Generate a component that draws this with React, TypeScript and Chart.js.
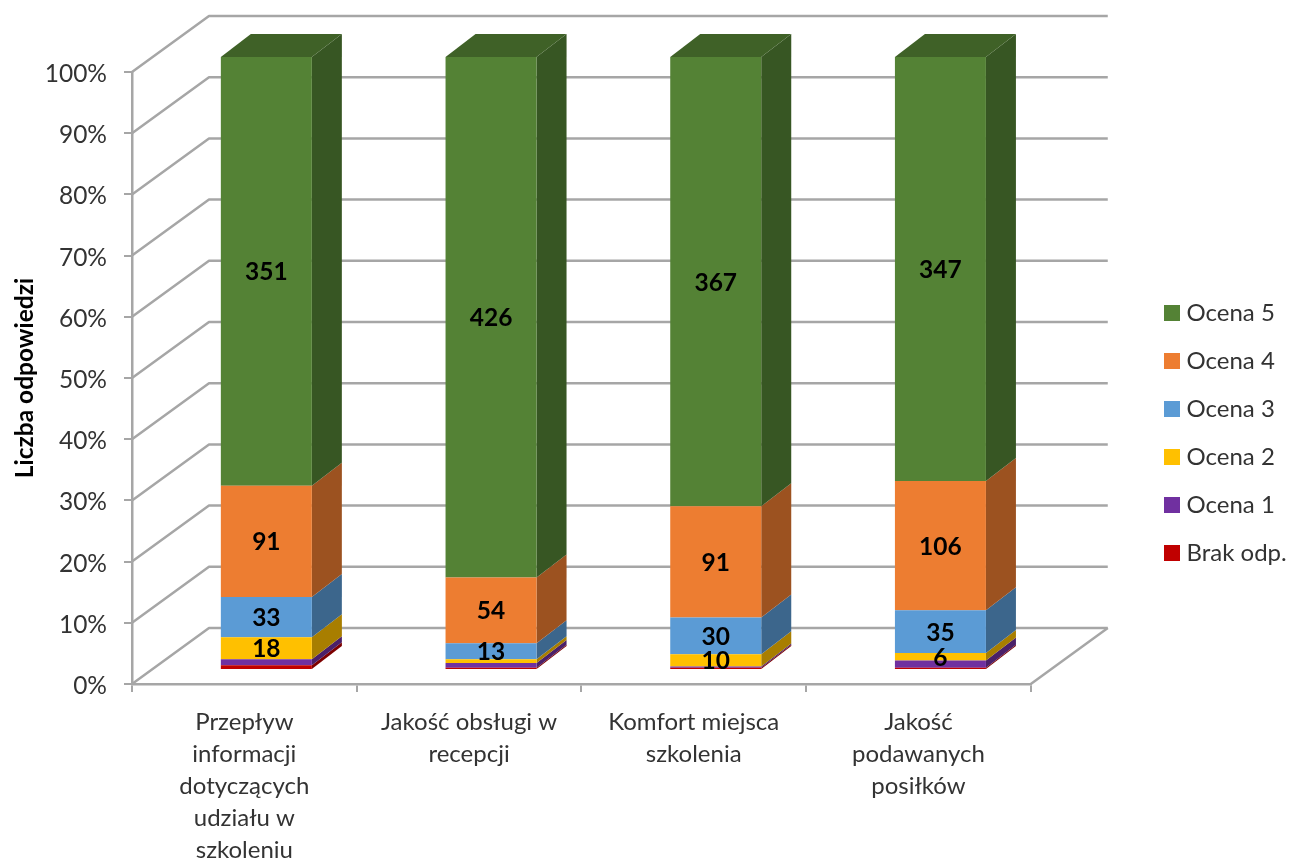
import React, { useEffect, useRef } from "react";
import { Chart, registerables } from "chart.js";

Chart.register(...registerables);

const FONT = "Lato, Carlito, sans-serif";
const TEXT = "#333333";
const GRID = "#a6a6a6";

const categories = [
  ["Przepływ", "informacji", "dotyczących", "udziału w", "szkoleniu"],
  ["Jakość obsługi w", "recepcji"],
  ["Komfort miejsca", "szkolenia"],
  ["Jakość", "podawanych", "posiłków"],
];

const brakOdp = [3, 1, 1, 1];
const ocena1 = [5, 4, 1, 6];
const ocena2 = [18, 3, 10, 6];
const ocena3 = [33, 13, 30, 35];
const ocena4 = [91, 54, 91, 106];
const ocena5 = [351, 426, 367, 347];

const seriesNames = ["Brak odp.", "Ocena 1", "Ocena 2", "Ocena 3", "Ocena 4", "Ocena 5"];
const seriesCounts = [brakOdp, ocena1, ocena2, ocena3, ocena4, ocena5];
const frontColors = ["#c00000", "#7030a0", "#ffc000", "#5b9bd5", "#ed7d31", "#548235"];
const sideColors = ["#7d0000", "#4a2069", "#a87e00", "#3c668c", "#9c5220", "#375623"];
const topColor = "#3f6127";
const labelledSeries = [false, false, true, true, true, true];
const smallestLabelled = 5;

// Oblique projection of the 3D box: full floor depth, and where the bars sit in it.
const WALL_DX = 77;
const WALL_DY = -56;
const BAR_SHIFT_X = 22;
const BAR_SHIFT_Y = -15;
const BAR_DX = 30;
const BAR_DY = -23;
const TICK_LENGTH = 8;

const totals = categories.map((_, i) => seriesCounts.reduce((sum, s) => sum + s[i], 0));

const line = (ctx: CanvasRenderingContext2D, pts: number[][]) => {
  ctx.beginPath();
  pts.forEach(([x, y], i) => (i ? ctx.lineTo(x, y) : ctx.moveTo(x, y)));
  ctx.stroke();
};

const quad = (ctx: CanvasRenderingContext2D, pts: number[][], color: string) => {
  ctx.beginPath();
  pts.forEach(([x, y], i) => (i ? ctx.lineTo(x, y) : ctx.moveTo(x, y)));
  ctx.closePath();
  ctx.fillStyle = color;
  ctx.fill();
};

// Floor and walls of the box, taken from the value and category scales.
const wallsPlugin = {
  id: "walls",
  beforeDatasetsDraw(chart: any) {
    const { ctx, scales } = chart;
    const { x, y } = scales;
    ctx.save();
    ctx.strokeStyle = GRID;
    ctx.lineWidth = 2.5;
    ctx.lineJoin = "round";
    for (const tick of y.ticks) {
      const p = y.getPixelForValue(tick.value);
      line(ctx, [
        [x.left, p],
        [x.left + WALL_DX, p + WALL_DY],
        [x.right + WALL_DX, p + WALL_DY],
      ]);
    }
    const floor = y.getPixelForValue(0);
    line(ctx, [
      [x.right, floor],
      [x.right + WALL_DX, floor + WALL_DY],
    ]);
    // The 0% tick has no library grid width, so the lowest bar keeps its full height.
    ctx.lineWidth = 2;
    line(ctx, [
      [x.left - TICK_LENGTH, floor],
      [x.left, floor],
    ]);
    ctx.restore();
  },
};

// Side and top faces go down first, then the front faces are shifted into the box.
const barDepthPlugin = {
  id: "barDepth",
  beforeDatasetsDraw(chart: any) {
    const { ctx } = chart;
    ctx.save();
    ctx.translate(BAR_SHIFT_X, BAR_SHIFT_Y);
    chart.data.datasets.forEach((_: unknown, d: number) => {
      chart.getDatasetMeta(d).data.forEach((bar: any) => {
        const right = bar.x + bar.width / 2;
        const left = bar.x - bar.width / 2;
        quad(
          ctx,
          [
            [right, bar.base],
            [right + BAR_DX, bar.base + BAR_DY],
            [right + BAR_DX, bar.y + BAR_DY],
            [right, bar.y],
          ],
          sideColors[d]
        );
        if (d === chart.data.datasets.length - 1) {
          quad(
            ctx,
            [
              [left, bar.y],
              [left + BAR_DX, bar.y + BAR_DY],
              [right + BAR_DX, bar.y + BAR_DY],
              [right, bar.y],
            ],
            topColor
          );
        }
      });
    });
  },
  afterDatasetsDraw(chart: any) {
    const { ctx } = chart;
    ctx.fillStyle = "#000000";
    ctx.font = `bold 24.5px ${FONT}`;
    ctx.textAlign = "center";
    ctx.textBaseline = "middle";
    chart.data.datasets.forEach((_: unknown, d: number) => {
      if (!labelledSeries[d]) return;
      chart.getDatasetMeta(d).data.forEach((bar: any, i: number) => {
        const count = seriesCounts[d][i];
        if (count < smallestLabelled) return;
        ctx.fillText(String(count), bar.x, (bar.y + bar.base) / 2 + 1);
      });
    });
    ctx.restore();
  },
};

// The legend keeps its reserved slot in the layout but sits further right, level with the plot's middle.
const legendPlacementPlugin = {
  id: "legendPlacement",
  afterLayout(chart: any) {
    const legend = chart.legend;
    const width = legend.right - legend.left;
    const height = legend.bottom - legend.top;
    legend.left = 1145.5;
    legend.right = legend.left + width;
    legend.top = 39;
    legend.bottom = legend.top + height;
  },
};

export default function App() {
  const ref = useRef<HTMLCanvasElement>(null);

  useEffect(() => {
    const chart = new Chart(ref.current as HTMLCanvasElement, {
      type: "bar",
      data: {
        labels: categories as any,
        datasets: seriesNames.map((name, d) => ({
          label: name,
          data: seriesCounts[d].map((v, i) => (v / totals[i]) * 100),
          backgroundColor: frontColors[d],
          borderWidth: 0,
          categoryPercentage: 1,
          barPercentage: 0.405,
        })),
      },
      options: {
        animation: false,
        responsive: false,
        layout: { padding: { top: 72, left: 10, right: 110, bottom: 0 } },
        plugins: {
          tooltip: { enabled: false },
          title: { display: false },
          legend: {
            position: "right",
            reverse: true,
            labels: {
              boxWidth: 5,
              boxHeight: 5,
              padding: 24,
              color: TEXT,
              font: { family: FONT, size: 24 },
              // A thick same-colour outline grows the swatch while keeping the label close to it.
              generateLabels: (c: any) =>
                (Chart.defaults as any).plugins.legend.labels
                  .generateLabels(c)
                  .map((item: any) => ({ ...item, strokeStyle: item.fillStyle, lineWidth: 11 })),
            },
          },
        },
        scales: {
          x: {
            stacked: true,
            afterFit: (s: any) => {
              s.height = 176;
              s.paddingLeft = s.paddingRight = 0;
            },
            grid: { drawOnChartArea: false, drawTicks: true, tickLength: TICK_LENGTH, color: GRID, lineWidth: 2 },
            border: { display: true, color: GRID, width: 2.5 },
            ticks: {
              color: TEXT,
              maxRotation: 0,
              autoSkip: false,
              padding: 14,
              font: { family: FONT, size: 24, lineHeight: 1.34 },
            },
          },
          y: {
            stacked: true,
            min: 0,
            max: 100,
            afterFit: (s: any) => {
              s.width = 122;
              s.paddingTop = s.paddingBottom = 0;
            },
            grid: {
              drawOnChartArea: false,
              drawTicks: true,
              tickLength: TICK_LENGTH,
              color: GRID,
              lineWidth: (c: any) => (c.tick && c.tick.value === 0 ? 0 : 2),
            },
            border: { display: true, color: GRID, width: 2.5 },
            ticks: {
              stepSize: 10,
              color: TEXT,
              padding: 17,
              labelOffset: 2,
              font: { family: FONT, size: 24.5 },
              callback: (v: any) => `${v}%`,
            },
            title: {
              display: true,
              text: "Liczba odpowiedzi",
              color: "#000000",
              padding: 0,
              font: { family: FONT, size: 24.5, weight: "bold" },
            },
          },
        },
      },
      plugins: [wallsPlugin, barDepthPlugin, legendPlacementPlugin],
    } as any);
    return () => chart.destroy();
  }, []);

  return (
    <div style={{ position: "absolute", left: 0, top: 0, width: 1292, height: 860, background: "#ffffff" }}>
      <canvas ref={ref} width={1292} height={860} style={{ display: "block" }} />
    </div>
  );
}
